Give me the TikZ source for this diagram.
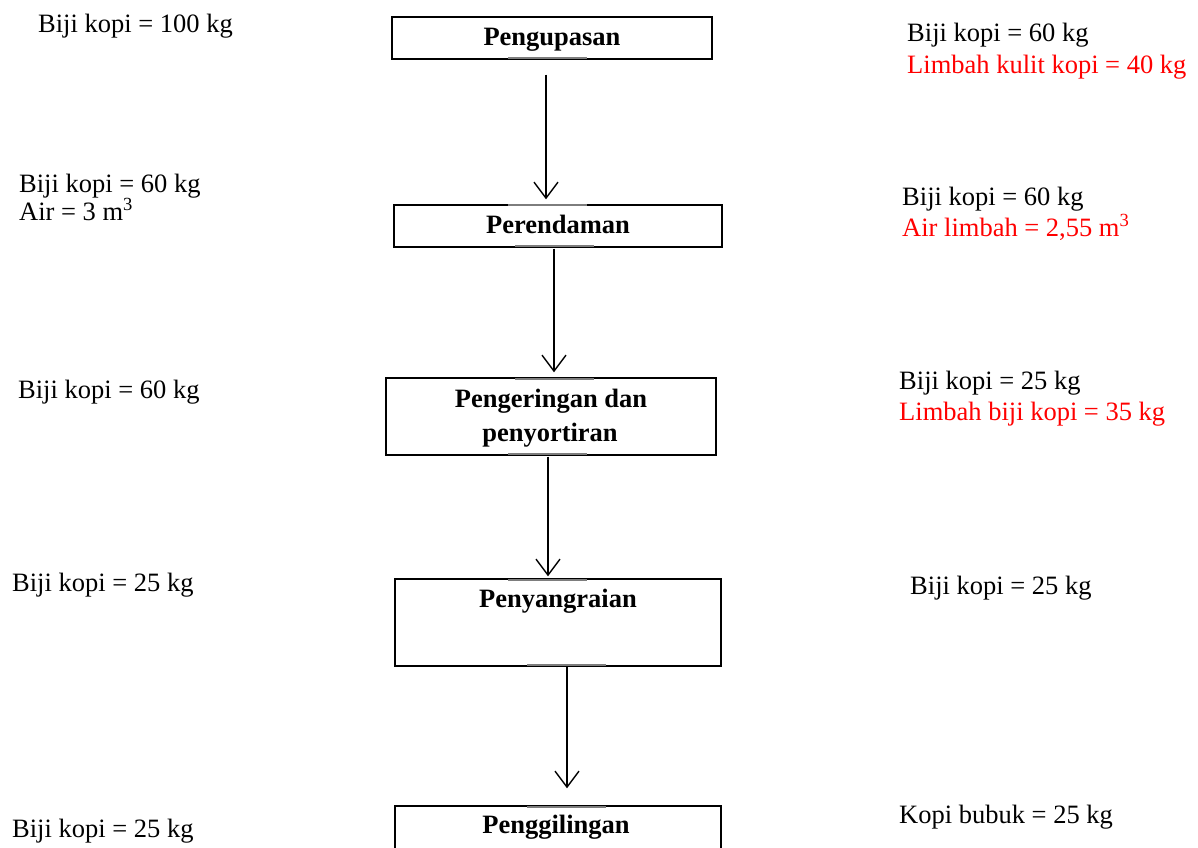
\documentclass[tikz,border=0pt]{standalone}
\usepackage{fontspec}
\setmainfont{Liberation Serif}
\usetikzlibrary{arrows.meta}
\definecolor{waste}{RGB}{255,0,0}
\definecolor{seam}{RGB}{125,125,125}
\begin{document}
\begin{tikzpicture}[x=1pt,y=-1pt,
  every node/.style={font=\fontsize{26.5}{31}\selectfont},
  box/.style={draw=black, line width=1.4pt, rectangle, inner sep=0pt},
  title/.style={inner sep=0pt, anchor=base, font=\fontsize{26.5}{31}\selectfont\bfseries},
  qty/.style={inner sep=0pt, anchor=base west},
  lost/.style={qty, text=waste},
  flow/.style={line width=1.4pt, -{Straight Barb[length=16pt, width=24pt, line width=1.4pt]}},
  seamline/.style={draw=seam, line width=2.4pt}]
\useasboundingbox (0,0) rectangle (1198,847);
\clip (0,0) rectangle (1198,847);

% process boxes
\node[box, minimum width=320pt, minimum height=42pt] (b1) at (552,38) {};
\node[box, minimum width=328pt, minimum height=42pt] (b2) at (558,226) {};
\node[box, minimum width=330pt, minimum height=77pt] (b3) at (551,416.5) {};
\node[box, minimum width=326pt, minimum height=87pt] (b4) at (558,622.5) {};
\node[box, minimum width=326pt, minimum height=74pt] (b5) at (558,843) {};

% grey seams on the box edges
\draw[seamline] (508,58) -- (587,58);
\draw[seamline] (508,205) -- (587,205);
\draw[seamline] (515,246) -- (594,246);
\draw[seamline] (515,379) -- (594,379);
\draw[seamline] (508,454) -- (587,454);
\draw[seamline] (508,580) -- (587,580);
\draw[seamline] (527,665) -- (606,665);
\draw[seamline] (527,807) -- (606,807);

% box titles
\node[title] (t1) at (552,45) {Pengupasan};
\node[title] (t2) at (558,233) {Perendaman};
\node[title] (t3a) at (551,407) {Pengeringan dan};
\node[title] (t3b) at (550,441) {penyortiran};
\node[title] (t4) at (558,607) {Penyangraian};
\node[title] (t5) at (556,833) {Penggilingan};

% flow arrows
\coordinate (x1) at (546,0);
\coordinate (x2) at (554,0);
\coordinate (x3) at (548,0);
\coordinate (x4) at (567,0);
\draw[flow, shorten <=15pt, shorten >=5pt] (b1.south -| x1) -- (b2.north -| x1);
\draw[flow, shorten <=1pt, shorten >=5pt] (b2.south -| x2) -- (b3.north -| x2);
\draw[flow, shorten <=1pt, shorten >=2pt] (b3.south -| x3) -- (b4.north -| x3);
\draw[flow, shorten >=17pt] (b4.south -| x4) -- (b5.north -| x4);

% inputs (left)
\node[qty] (in1) at (38,32) {Biji kopi = 100 kg};
\node[qty] (in2a) at (19,192) {Biji kopi = 60 kg};
\node[qty] (in2b) at (19,220) {Air = 3 m\textsuperscript{3}};
\node[qty] (in3) at (18,398) {Biji kopi = 60 kg};
\node[qty] (in4) at (12,591) {Biji kopi = 25 kg};
\node[qty] (in5) at (12,837) {Biji kopi = 25 kg};

% outputs (right)
\node[qty] (out1a) at (907,41) {Biji kopi = 60 kg};
\node[lost] (out1b) at (907,73) {Limbah kulit kopi = 40 kg};
\node[qty] (out2a) at (902,205) {Biji kopi = 60 kg};
\node[lost] (out2b) at (902,236) {Air limbah = 2,55 m\textsuperscript{3}};
\node[qty] (out3a) at (899,389) {Biji kopi = 25 kg};
\node[lost] (out3b) at (899,420) {Limbah biji kopi = 35 kg};
\node[qty] (out4) at (910,594) {Biji kopi = 25 kg};
\node[qty] (out5) at (899,823) {Kopi bubuk = 25 kg};
\end{tikzpicture}
\end{document}
